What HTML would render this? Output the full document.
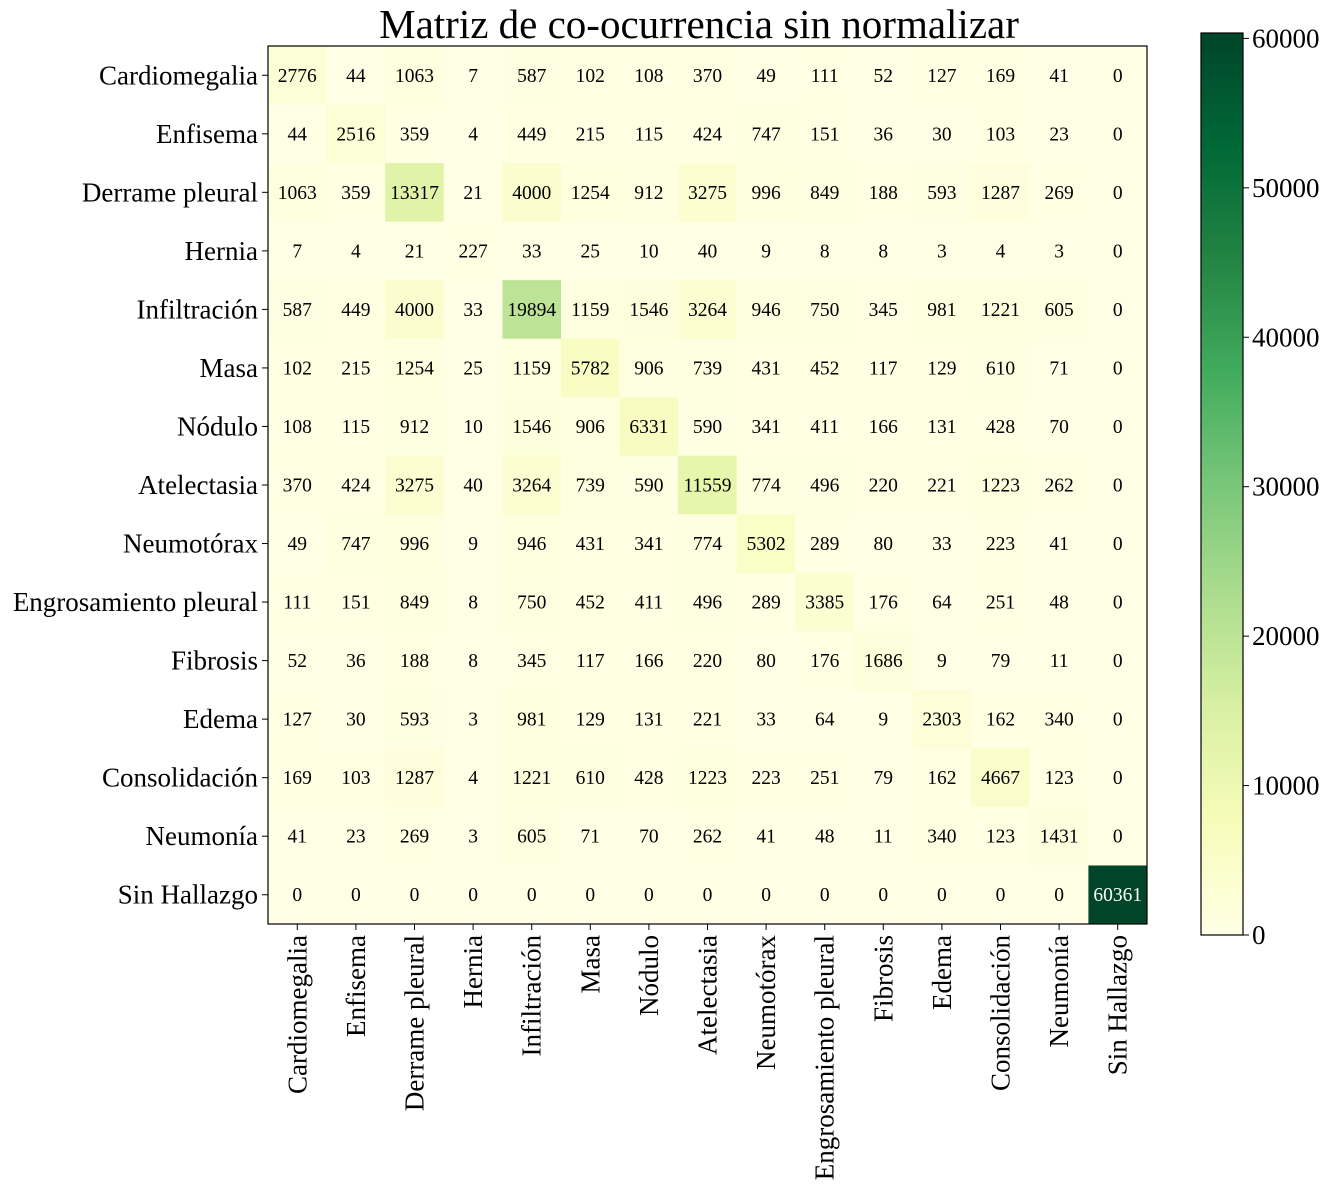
<!DOCTYPE html>
<html><head><meta charset="utf-8">
<style>
html,body{margin:0;padding:0;background:#fff;}
svg{display:block;font-family:"Liberation Serif","DejaVu Serif",serif;}
</style></head>
<body>
<svg id="chart" width="1328" height="1192" viewBox="0 0 1328 1192">
<text x="699" y="38" text-anchor="middle" font-size="41">Matriz de co-ocurrencia sin normalizar</text>
<g id="cells"></g>
<g id="xlabels"></g>
<g id="ylabels"></g>
<rect x="268" y="46" width="879" height="878" fill="none" stroke="#000" stroke-width="1.2"/>
<defs>
<linearGradient id="cbgrad" x1="0" y1="1" x2="0" y2="0">
<stop offset="0" stop-color="#ffffe5"/><stop offset="0.125" stop-color="#f7fcb9"/>
<stop offset="0.25" stop-color="#d9f0a3"/><stop offset="0.375" stop-color="#addd8e"/>
<stop offset="0.5" stop-color="#78c679"/><stop offset="0.625" stop-color="#41ab5d"/>
<stop offset="0.75" stop-color="#238443"/><stop offset="0.875" stop-color="#006837"/>
<stop offset="1" stop-color="#004529"/>
</linearGradient>
</defs>
<rect x="1201" y="33" width="42" height="902" fill="url(#cbgrad)" stroke="#000" stroke-width="1.2"/>
<g id="cbticks"></g>
</svg>
<script>
const labels = ["Cardiomegalia","Enfisema","Derrame pleural","Hernia","Infiltración","Masa","Nódulo","Atelectasia","Neumotórax","Engrosamiento pleural","Fibrosis","Edema","Consolidación","Neumonía","Sin Hallazgo"];
const row0 = [2776,44,1063,7,587,102,108,370,49,111,52,127,169,41,0];
const row1 = [44,2516,359,4,449,215,115,424,747,151,36,30,103,23,0];
const row2 = [1063,359,13317,21,4000,1254,912,3275,996,849,188,593,1287,269,0];
const row3 = [7,4,21,227,33,25,10,40,9,8,8,3,4,3,0];
const row4 = [587,449,4000,33,19894,1159,1546,3264,946,750,345,981,1221,605,0];
const row5 = [102,215,1254,25,1159,5782,906,739,431,452,117,129,610,71,0];
const row6 = [108,115,912,10,1546,906,6331,590,341,411,166,131,428,70,0];
const row7 = [370,424,3275,40,3264,739,590,11559,774,496,220,221,1223,262,0];
const row8 = [49,747,996,9,946,431,341,774,5302,289,80,33,223,41,0];
const row9 = [111,151,849,8,750,452,411,496,289,3385,176,64,251,48,0];
const row10 = [52,36,188,8,345,117,166,220,80,176,1686,9,79,11,0];
const row11 = [127,30,593,3,981,129,131,221,33,64,9,2303,162,340,0];
const row12 = [169,103,1287,4,1221,610,428,1223,223,251,79,162,4667,123,0];
const row13 = [41,23,269,3,605,71,70,262,41,48,11,340,123,1431,0];
const row14 = [0,0,0,0,0,0,0,0,0,0,0,0,0,0,60361];
const matrix = [row0,row1,row2,row3,row4,row5,row6,row7,row8,row9,row10,row11,row12,row13,row14];
const cbTicks = [0,10000,20000,30000,40000,50000,60000];

const NS="http://www.w3.org/2000/svg";
const X0=268,Y0=46,W=879,H=878;
const vmax=Math.max(...matrix.flat());
const cw=W/labels.length, ch=H/labels.length;
const cbTop=33, cbBot=935;
function cbY(v){return cbBot-(cbBot-cbTop)*v/vmax;}
const stops=[[255,255,229],[247,252,185],[217,240,163],[173,221,142],[120,198,121],[65,171,93],[35,132,67],[0,104,55],[0,69,41]];
function color(v){
  let t=Math.max(0,Math.min(1,v/vmax))*(stops.length-1);
  let i=Math.min(Math.floor(t),stops.length-2), f=t-i;
  const c=stops[i].map((a,k)=>Math.round(a+(stops[i+1][k]-a)*f));
  return `rgb(${c[0]},${c[1]},${c[2]})`;
}
function el(tag,attrs,parent){const e=document.createElementNS(NS,tag);for(const k in attrs)e.setAttribute(k,attrs[k]);parent.appendChild(e);return e;}
const cells=document.getElementById('cells');
matrix.forEach((row,r)=>{
  row.forEach((v,c)=>{
    const rect=el('rect',{x:X0+c*cw,y:Y0+r*ch,width:cw+0.5,height:ch+0.5,fill:color(v)},cells);
    
    
    const t=el('text',{x:X0+(c+0.5)*cw,y:Y0+(r+0.5)*ch+6.5,'text-anchor':'middle','font-size':'19.5',fill:v>vmax*0.5?'#fff':'#000'},cells);
    t.textContent=v;
    
    
  });
});
const xl=document.getElementById('xlabels'), yl=document.getElementById('ylabels');
labels.forEach((lab,i)=>{
  const cx=X0+(i+0.5)*cw, cy=Y0+(i+0.5)*ch;
  el('line',{x1:cx,y1:Y0+H,x2:cx,y2:Y0+H+6,stroke:'#000'},xl);
  const t=el('text',{x:0,y:0,'text-anchor':'end','font-size':'27',transform:`translate(${cx+9},${Y0+H+11}) rotate(-90)`},xl);
  t.textContent=lab;
  
  
  el('line',{x1:X0-6,y1:cy,x2:X0,y2:cy,stroke:'#000'},yl);
  const u=el('text',{x:X0-10,y:cy+9,'text-anchor':'end','font-size':'27'},yl);
  u.textContent=lab;
  
  
});
const cbt=document.getElementById('cbticks');
cbTicks.forEach(v=>{
  const y=cbY(v);
  el('line',{x1:1243,y1:y,x2:1249,y2:y,stroke:'#000'},cbt);
  const t=el('text',{x:1252,y:y+9,'font-size':'27'},cbt);
  t.textContent=v;
  
  
});
</script>
</body></html>
